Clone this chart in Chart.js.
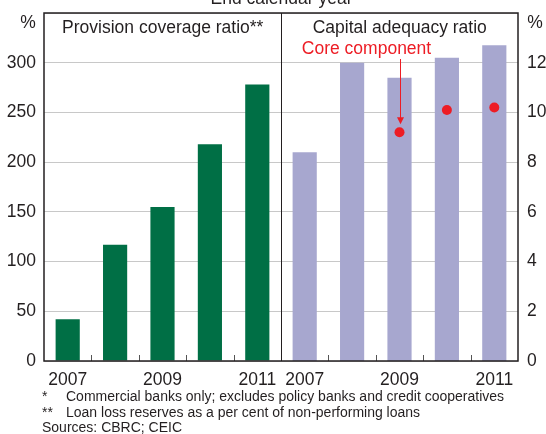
<!DOCTYPE html>
<html>
<head>
<meta charset="utf-8">
<script src="https://cdn.jsdelivr.net/npm/chart.js@4"></script>
<style>
  html, body { margin: 0; padding: 0; background: #fff; }
  #wrap { position: relative; width: 546px; height: 434px; }
</style>
</head>
<body>
<div id="wrap"><canvas id="chart"></canvas></div>
<script>
const years = ["2007", "2008", "2009", "2010", "2011", "2007", "2008", "2009", "2010", "2011"];
const shownYears = ["2007", "2009", "2011"];
const provisionCoverage = [42, 117, 155, 218, 278, null, null, null, null, null];
const capitalAdequacy = [null, null, null, null, null, 8.4, 12.0, 11.4, 12.2, 12.7];
const coreComponent = [null, null, null, null, null, null, null, 9.2, 10.1, 10.2];
const panelTitles = ["Provision coverage ratio**", "Capital adequacy ratio"];
const footnotes = [
  ["*", "Commercial banks only; excludes policy banks and credit cooperatives"],
  ["**", "Loan loss reserves as a per cent of non-performing loans"]
];
const sourceNote = "Sources: CBRC; CEIC";

const FONT = "'Liberation Sans', Arial, sans-serif";
const INK = "#231f20";
const RED = "#ed1c24";

// text, divider, inner ticks and the annotation arrow
const decorPlugin = {
  id: "decor",
  beforeDatasetsDraw(chart) {
    const ctx = chart.ctx;
    const area = chart.chartArea;
    const x = chart.scales.x;
    ctx.save();
    // small ticks at category boundaries, pointing up
    ctx.strokeStyle = "#555";
    ctx.lineWidth = 1;
    for (let i = 1; i < years.length; i++) {
      if (i === 5) continue;
      const px = Math.round((x.getPixelForValue(i - 1) + x.getPixelForValue(i)) / 2) + 0.5;
      ctx.beginPath();
      ctx.moveTo(px, area.bottom);
      ctx.lineTo(px, area.bottom - 6);
      ctx.stroke();
    }
    ctx.restore();
  },
  afterDraw(chart) {
    const ctx = chart.ctx;
    const area = chart.chartArea;
    const x = chart.scales.x;
    const yR = chart.scales.yRight;
    const mid = Math.round((x.getPixelForValue(4) + x.getPixelForValue(5)) / 2) + 0.5;
    ctx.save();

    // divider between panels
    ctx.strokeStyle = INK;
    ctx.lineWidth = 1;
    ctx.beginPath();
    ctx.moveTo(mid, area.top);
    ctx.lineTo(mid, area.bottom);
    ctx.stroke();

    // frame
    ctx.lineWidth = 1.5;
    ctx.strokeRect(area.left, area.top, area.right - area.left, area.bottom - area.top);

    ctx.fillStyle = INK;
    ctx.textBaseline = "middle";
    ctx.textAlign = "center";
    ctx.font = "17.5px " + FONT;
    ctx.fillText("End calendar year", mid, -1);
    ctx.fillText(panelTitles[0], (area.left + mid) / 2, 28);
    ctx.fillText(panelTitles[1], (mid + area.right) / 2, 28);
    ctx.fillText("%", area.left - 16, 23.5);
    ctx.fillText("%", area.right + 17, 23.5);

    // core component label and arrow
    const ax = Math.round(x.getPixelForValue(7)) + 0.5;
    const tipY = yR.getPixelForValue(coreComponent[7]) - 8;
    ctx.fillStyle = RED;
    ctx.strokeStyle = RED;
    ctx.font = "17.5px " + FONT;
    ctx.fillText("Core component", ax - 34, 49);
    ctx.lineWidth = 1;
    ctx.beginPath();
    ctx.moveTo(ax, 59);
    ctx.lineTo(ax, tipY - 6);
    ctx.stroke();
    ctx.beginPath();
    ctx.moveTo(ax - 3.5, tipY - 7);
    ctx.lineTo(ax + 3.5, tipY - 7);
    ctx.lineTo(ax, tipY);
    ctx.closePath();
    ctx.fill();

    // footnotes
    ctx.fillStyle = INK;
    ctx.textAlign = "left";
    ctx.textBaseline = "alphabetic";
    ctx.font = "14px " + FONT;
    footnotes.forEach((note, i) => {
      ctx.fillText(note[0], 42, 401 + i * 15.5);
      ctx.fillText(note[1], 66, 401 + i * 15.5);
    });
    ctx.fillText(sourceNote, 42, 432);
    ctx.restore();
  }
};

function fixWidth(width) {
  return function (scale) {
    scale.width = width;
    scale.paddingTop = 0;
    scale.paddingBottom = 0;
  };
}

const ctxChart = document.getElementById("chart").getContext("2d");
const chart = new Chart(ctxChart, {
  type: "bar",
  data: {
    labels: years,
    datasets: [{
      type: "line",
      label: "Core component",
      data: coreComponent,
      yAxisID: "yRight",
      order: 0,
      showLine: false,
      pointRadius: 5,
      pointBackgroundColor: RED,
      pointBorderColor: RED,
      pointBorderWidth: 0,
      borderColor: RED,
      backgroundColor: RED
    }, {
      label: "Provision coverage ratio",
      data: provisionCoverage,
      backgroundColor: "#006f45",
      yAxisID: "yLeft",
      order: 1,
      grouped: false,
      barPercentage: 0.51,
      categoryPercentage: 1
    }, {
      label: "Capital adequacy ratio",
      data: capitalAdequacy,
      backgroundColor: "#a7a7cf",
      yAxisID: "yRight",
      order: 1,
      grouped: false,
      barPercentage: 0.51,
      categoryPercentage: 1
    }]
  },
  options: {
    responsive: true,
    maintainAspectRatio: false,
    animation: false,
    layout: { padding: { top: 13, left: 0, right: 0, bottom: 0 } },
    plugins: {
      legend: { display: false },
      tooltip: { enabled: false },
      title: { display: false }
    },
    scales: {
      x: {
        offset: true,
        grid: { display: false, drawTicks: false },
        border: { display: false },
        ticks: {
          autoSkip: false,
          maxRotation: 0,
          padding: 9,
          color: INK,
          font: { family: FONT, size: 17.5 },
          callback: function (value, index) {
            const label = years[index];
            return shownYears.includes(label) ? label : "";
          }
        },
        afterFit: function (scale) {
          scale.height = 73;
          scale.paddingLeft = 0;
          scale.paddingRight = 0;
        }
      },
      yLeft: {
        position: "left",
        min: 0,
        max: 350,
        grid: { color: "#c8c8c8", lineWidth: 1, drawTicks: false },
        border: { display: false },
        ticks: {
          stepSize: 50,
          padding: 8,
          color: INK,
          font: { family: FONT, size: 17.5 },
          callback: v => v === 350 ? "" : v
        },
        afterFit: fixWidth(44)
      },
      yRight: {
        position: "right",
        min: 0,
        max: 14,
        grid: { display: false, drawTicks: false },
        border: { display: false },
        ticks: {
          stepSize: 2,
          padding: 9,
          color: INK,
          font: { family: FONT, size: 17.5 },
          callback: v => v === 14 ? "" : v
        },
        afterFit: fixWidth(28)
      }
    }
  },
  plugins: [decorPlugin]
});
</script>
</body>
</html>
